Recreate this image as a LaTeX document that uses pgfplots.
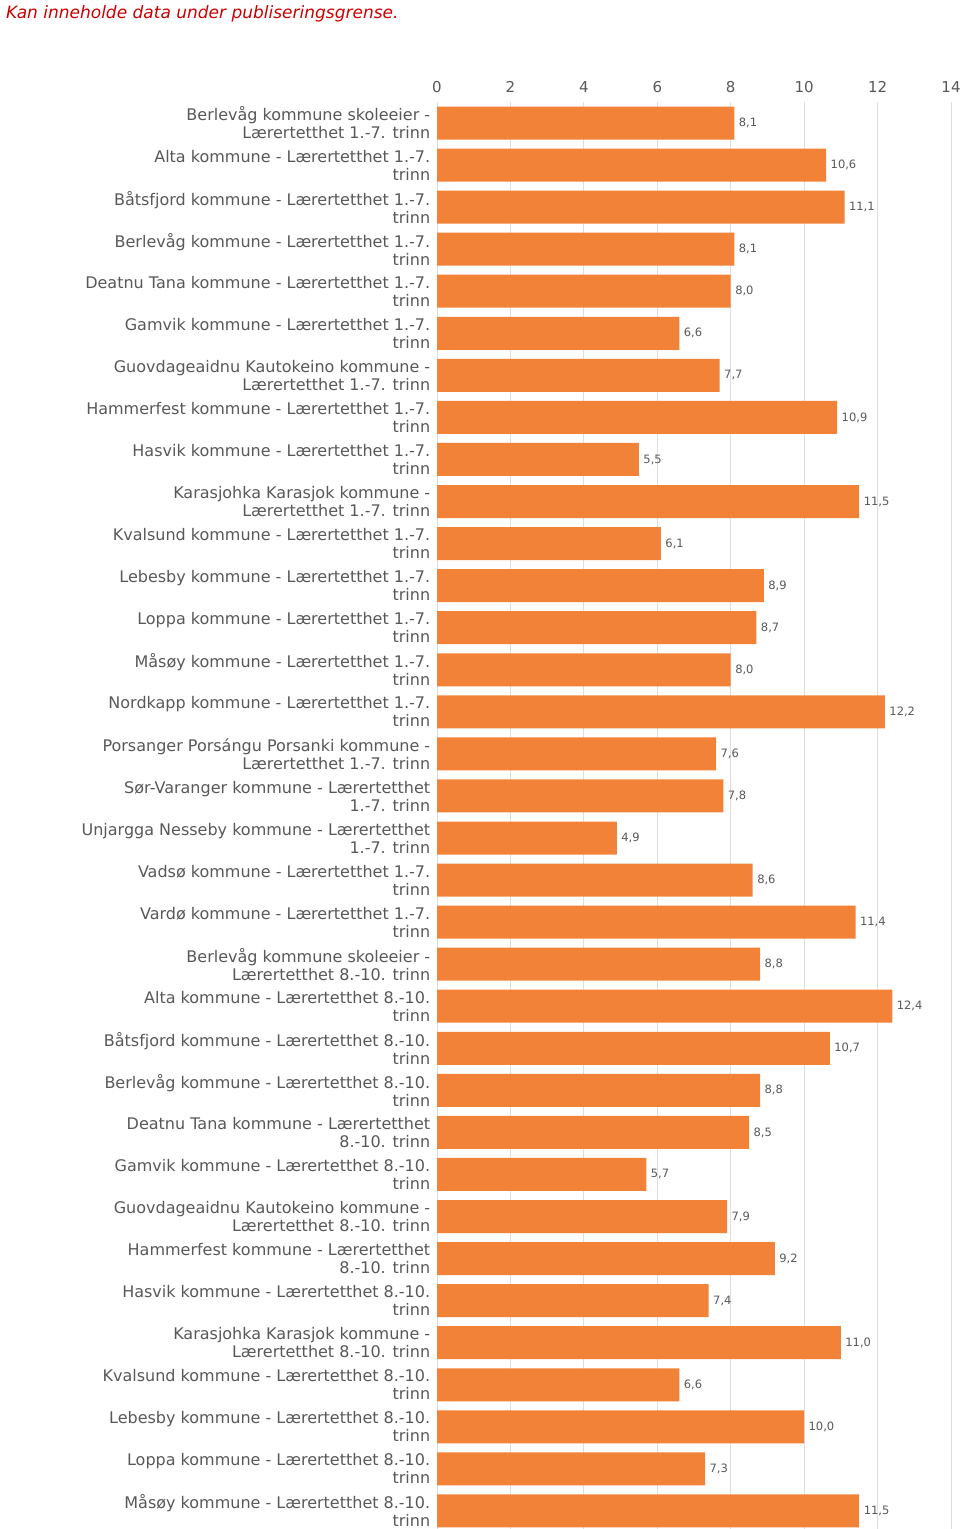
\documentclass[border=0pt]{standalone}
\usepackage{fontspec}
\setmainfont{DejaVu Sans}
\usepackage{pgfplots}
\pgfplotsset{compat=1.18}
\definecolor{barorange}{RGB}{243,130,57}
\definecolor{txtgray}{RGB}{88,88,88}
\definecolor{gridgray}{RGB}{222,222,222}
\definecolor{titlered}{RGB}{204,0,0}
\begin{document}
\begin{tikzpicture}
\path[use as bounding box] (0,0) rectangle (960pt,1529pt);
\node[anchor=west, text=titlered, font=\fontsize{17}{19}\selectfont\itshape, inner sep=0pt] at (6pt,1515pt) {Kan inneholde data under publiseringsgrense.};
\begin{axis}[
  at={(437pt,0pt)}, anchor=south west,
  scale only axis,
  width=514pt, height=1427pt,
  xbar, bar width=33pt,
  xmin=0, xmax=14,
  ymin=-0.5, ymax=33.43,
  y dir=reverse,
  axis line style={draw=none},
  tick style={draw=none},
  xmajorgrids,
  grid style={gridgray, line width=1pt},
  xtick={0,2,...,14},
  xticklabel pos=top,
  xticklabel style={text=txtgray, font=\fontsize{15}{17}\selectfont, yshift=6pt},
  /pgf/number format/assume math mode=true,
  ytick={0,...,33},
  yticklabel style={text=txtgray, font=\fontsize{16}{18}\selectfont, align=right, xshift=1pt},
  yticklabels={
    {Berlevåg kommune skoleeier -\\Lærertetthet 1.-7. trinn},
    {Alta kommune - Lærertetthet 1.-7.\\trinn},
    {Båtsfjord kommune - Lærertetthet 1.-7.\\trinn},
    {Berlevåg kommune - Lærertetthet 1.-7.\\trinn},
    {Deatnu Tana kommune - Lærertetthet 1.-7.\\trinn},
    {Gamvik kommune - Lærertetthet 1.-7.\\trinn},
    {Guovdageaidnu Kautokeino kommune -\\Lærertetthet 1.-7. trinn},
    {Hammerfest kommune - Lærertetthet 1.-7.\\trinn},
    {Hasvik kommune - Lærertetthet 1.-7.\\trinn},
    {Karasjohka Karasjok kommune -\\Lærertetthet 1.-7. trinn},
    {Kvalsund kommune - Lærertetthet 1.-7.\\trinn},
    {Lebesby kommune - Lærertetthet 1.-7.\\trinn},
    {Loppa kommune - Lærertetthet 1.-7.\\trinn},
    {Måsøy kommune - Lærertetthet 1.-7.\\trinn},
    {Nordkapp kommune - Lærertetthet 1.-7.\\trinn},
    {Porsanger Porsángu Porsanki kommune -\\Lærertetthet 1.-7. trinn},
    {Sør-Varanger kommune - Lærertetthet\\1.-7. trinn},
    {Unjargga Nesseby kommune - Lærertetthet\\1.-7. trinn},
    {Vadsø kommune - Lærertetthet 1.-7.\\trinn},
    {Vardø kommune - Lærertetthet 1.-7.\\trinn},
    {Berlevåg kommune skoleeier -\\Lærertetthet 8.-10. trinn},
    {Alta kommune - Lærertetthet 8.-10.\\trinn},
    {Båtsfjord kommune - Lærertetthet 8.-10.\\trinn},
    {Berlevåg kommune - Lærertetthet 8.-10.\\trinn},
    {Deatnu Tana kommune - Lærertetthet\\8.-10. trinn},
    {Gamvik kommune - Lærertetthet 8.-10.\\trinn},
    {Guovdageaidnu Kautokeino kommune -\\Lærertetthet 8.-10. trinn},
    {Hammerfest kommune - Lærertetthet\\8.-10. trinn},
    {Hasvik kommune - Lærertetthet 8.-10.\\trinn},
    {Karasjohka Karasjok kommune -\\Lærertetthet 8.-10. trinn},
    {Kvalsund kommune - Lærertetthet 8.-10.\\trinn},
    {Lebesby kommune - Lærertetthet 8.-10.\\trinn},
    {Loppa kommune - Lærertetthet 8.-10.\\trinn},
    {Måsøy kommune - Lærertetthet 8.-10.\\trinn}
  },
  nodes near coords,
  nodes near coords style={text=txtgray, font=\fontsize{11.5}{13}\selectfont, anchor=west, xshift=1pt,
    /pgf/number format/.cd, fixed, fixed zerofill, precision=1, use comma, assume math mode=true},
  clip=false,
]
\addplot[fill=barorange, draw=none] coordinates {
 (8.1,0) (10.6,1) (11.1,2) (8.1,3) (8.0,4) (6.6,5) (7.7,6) (10.9,7) (5.5,8) (11.5,9)
 (6.1,10) (8.9,11) (8.7,12) (8.0,13) (12.2,14) (7.6,15) (7.8,16) (4.9,17) (8.6,18) (11.4,19)
 (8.8,20) (12.4,21) (10.7,22) (8.8,23) (8.5,24) (5.7,25) (7.9,26) (9.2,27) (7.4,28) (11.0,29)
 (6.6,30) (10.0,31) (7.3,32) (11.5,33)
};
\end{axis}
\end{tikzpicture}
\end{document}
